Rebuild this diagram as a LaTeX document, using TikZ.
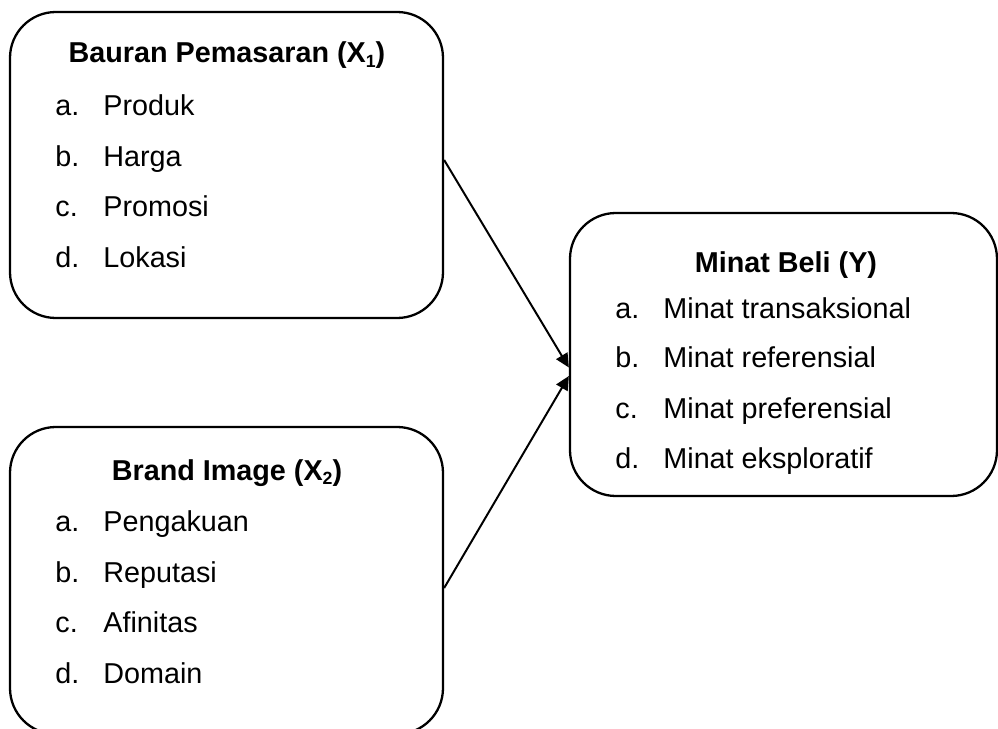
\documentclass[tikz,border=0pt]{standalone}
\usepackage{fontspec}
\setmainfont{Liberation Sans}
\usetikzlibrary{fit,calc,arrows.meta}
\newcommand{\mysub}[1]{\raisebox{-0.3ex}{\fontsize{8.5}{9}\selectfont #1}}
\tikzset{
  varbox/.style={draw=black, line width=1.1pt, rounded corners=22pt, inner sep=0pt, fit=#1},
  ttl/.style={anchor=base, inner sep=0pt, font=\fontsize{13.8}{16}\selectfont\bfseries},
  lbl/.style={anchor=base west, inner sep=0pt, font=\fontsize{13.8}{16}\selectfont},
  link/.style={line width=0.95pt, -{Triangle[length=6.6pt,width=6.2pt]}}
}
\begin{document}
\begin{tikzpicture}[x=0.48pt,y=-0.48pt]
\useasboundingbox (0,0) rectangle (998,729);
% box corners
\coordinate (a1) at (10,12);   \coordinate (a2) at (443,318);
\coordinate (c1) at (10,427);  \coordinate (c2) at (443,734);
\coordinate (d1) at (570,213); \coordinate (d2) at (997,496);
\node[varbox=(a1)(a2)] (b1) {};
\node[varbox=(c1)(c2)] (b2) {};
\node[varbox=(d1)(d2)] (b3) {};
% box 1
\node[ttl] (t1) at (227,63) {Bauran Pemasaran (X\mysub{1})};
\node[lbl] (p1a) at (55,115) {a.}; \node[lbl] (p1) at (103,115) {Produk};
\node[lbl] (p2a) at (55,166) {b.}; \node[lbl] (p2) at (103,166) {Harga};
\node[lbl] (p3a) at (55,216) {c.}; \node[lbl] (p3) at (103,216) {Promosi};
\node[lbl] (p4a) at (55,267) {d.}; \node[lbl] (p4) at (103,267) {Lokasi};
% box 2
\node[ttl] (t2) at (227,480) {Brand Image (X\mysub{2})};
\node[lbl] (q1a) at (55,531) {a.}; \node[lbl] (q1) at (103,531) {Pengakuan};
\node[lbl] (q2a) at (55,582) {b.}; \node[lbl] (q2) at (103,582) {Reputasi};
\node[lbl] (q3a) at (55,632) {c.}; \node[lbl] (q3) at (103,632) {Afinitas};
\node[lbl] (q4a) at (55,683) {d.}; \node[lbl] (q4) at (103,683) {Domain};
% box 3
\node[ttl] (t3) at (786,272) {Minat Beli (Y)};
\node[lbl] (r1a) at (615,318) {a.}; \node[lbl] (r1) at (663,318) {Minat transaksional};
\node[lbl] (r2a) at (615,367) {b.}; \node[lbl] (r2) at (663,367) {Minat referensial};
\node[lbl] (r3a) at (615,418) {c.}; \node[lbl] (r3) at (663,418) {Minat preferensial};
\node[lbl] (r4a) at (615,468) {d.}; \node[lbl] (r4) at (663,468) {Minat eksploratif};
% connectors
\draw[link] ($(b1.east)+(0,-5)$) -- ($(b3.west)+(0,13)$);
\draw[link] ($(b2.east)+(0,7.5)$) -- ($(b3.west)+(0,21.5)$);
\end{tikzpicture}
\end{document}
